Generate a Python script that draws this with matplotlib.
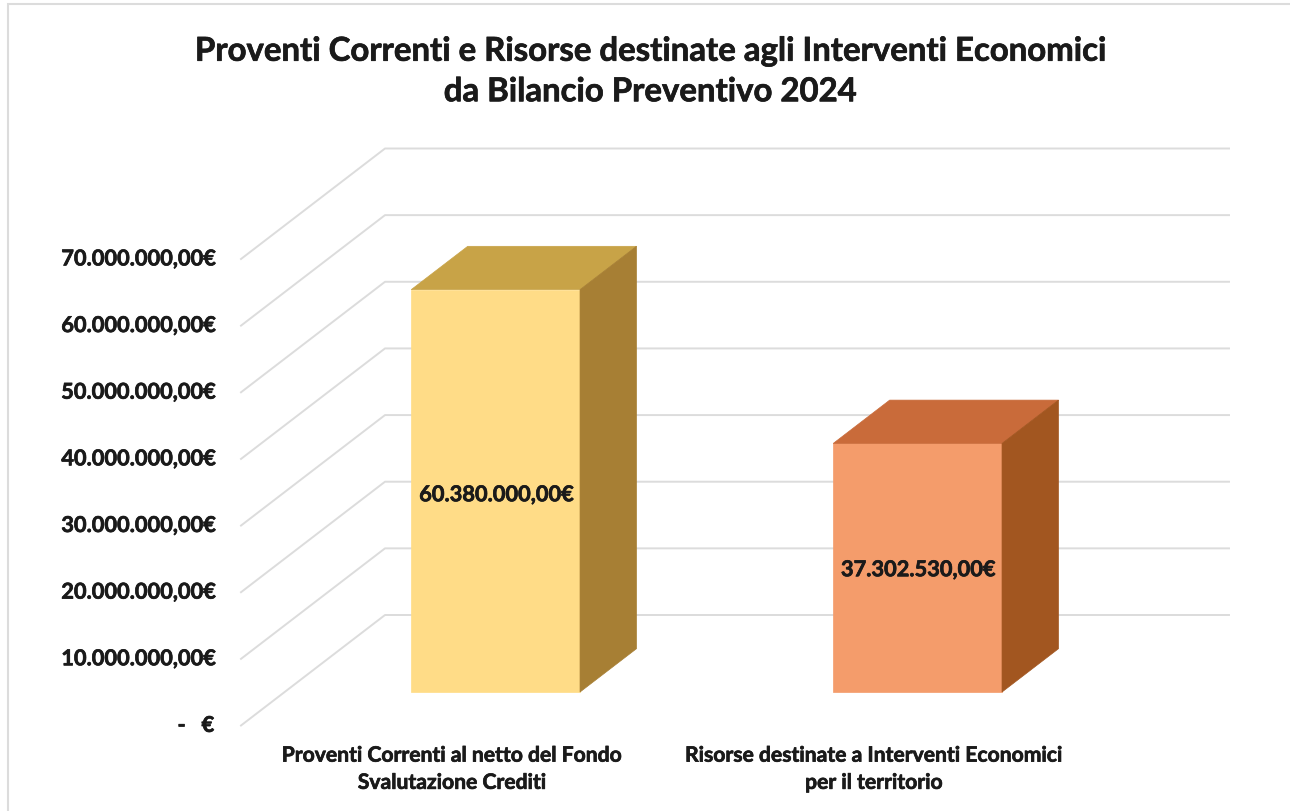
import matplotlib
matplotlib.use("Agg")
import matplotlib.pyplot as plt
import matplotlib.patheffects as pe
from matplotlib.patches import Rectangle
from matplotlib.transforms import ScaledTranslation

categories = ["Proventi Correnti al netto del Fondo\nSvalutazione Crediti",
              "Risorse destinate a Interventi Economici\nper il territorio"]
values = [60380000, 37302530]
value_labels = ["60.380.000,00€", "37.302.530,00€"]
label_heights = [29600000, 18350000]
ticks = [0, 10000000, 20000000, 30000000, 40000000, 50000000, 60000000, 70000000]
tick_labels = ["-   €", "10.000.000,00€", "20.000.000,00€", "30.000.000,00€",
               "40.000.000,00€", "50.000.000,00€", "60.000.000,00€", "70.000.000,00€"]
title = "Proventi Correnti e Risorse destinate agli Interventi Economici\nda Bilancio Preventivo 2024"

front_colors = ["#FFDC87", "#F49C6B"]
top_colors = ["#C8A347", "#C96B3A"]
side_colors = ["#A77F34", "#A25620"]
text_color = "#1a1a1a"

W, H = 1290, 812
plt.rcParams["font.family"] = ["Lato", "DejaVu Sans"]
plt.rcParams["font.weight"] = "bold"

# a thin stroke, the original text looks heavier than Lato Bold
heavy = [pe.withStroke(linewidth=0.5, foreground=text_color)]

fig = plt.figure(figsize=(W / 100, H / 100), dpi=100)
fig.add_artist(Rectangle((8 / W, -0.01), 1.02 - 8 / W, 1.01 - 5 / H, transform=fig.transFigure,
                         fill=False, ec="#dcdcdc", lw=1.5))

# front plane of the floor, 3d depth gets added on top of it
ax = fig.add_axes([241 / W, 1 - 726.5 / H, 844 / W, 466.5 / H])
ax.set_xlim(0, 2)
ax.set_ylim(0, 70000000)
ax.patch.set_alpha(0)
for s in ax.spines.values():
    s.set_visible(False)

depth_x = 144 / 422
depth_y = 110.5 / 466.5 * 70000000


def proj(x, y, d):
    return x + d * depth_x, y + d * depth_y


def draw_poly(points, color):
    xs, ys = zip(*[proj(*p) for p in points])
    ax.fill(xs, ys, color=color, lw=0.5, clip_on=False, zorder=3)


for v in ticks:
    xs, ys = zip(proj(0, v, 0), proj(0, v, 1), proj(2, v, 1))
    ax.plot(xs, ys, color="#dcdcdc", lw=1.4, clip_on=False, zorder=1)

bar_w = 0.4
d0, d1 = 0.303, 0.695
for i, v in enumerate(values):
    x0 = i + 0.5 - bar_w / 2
    x1 = i + 0.5 + bar_w / 2
    draw_poly([(x0, 0, d0), (x1, 0, d0), (x1, v, d0), (x0, v, d0)], front_colors[i])
    draw_poly([(x0, v, d0), (x1, v, d0), (x1, v, d1), (x0, v, d1)], top_colors[i])
    draw_poly([(x1, 0, d0), (x1, 0, d1), (x1, v, d1), (x1, v, d0)], side_colors[i])
    lx, ly = proj(i + 0.5, label_heights[i], d0)
    ax.text(lx, ly, value_labels[i], ha="center", va="center", fontsize=15.7,
            fontweight="bold", color=text_color, zorder=4, path_effects=heavy)

ax.set_yticks(ticks)
ax.set_yticklabels(tick_labels, fontsize=15.7, color=text_color, path_effects=heavy)
ax.set_xticks([0.5, 1.5])
ax.set_xticklabels(categories, fontsize=15.2, color=text_color, linespacing=1.45, path_effects=heavy)
ax.tick_params(axis="y", length=0, pad=19.5)
ax.tick_params(axis="x", length=0, pad=14.5)

# tick labels sit a little above their line
up = ScaledTranslation(0, 1.5 / 72, fig.dpi_scale_trans)
for lab in ax.get_yticklabels():
    lab.set_transform(lab.get_transform() + up)

fig.text(650 / W, 1 - 72.5 / H, title, ha="center", va="center", fontsize=23.7,
         fontweight="bold", color=text_color, linespacing=1.48, path_effects=heavy)

fig.savefig("out.png", dpi=100)
plt.close()
